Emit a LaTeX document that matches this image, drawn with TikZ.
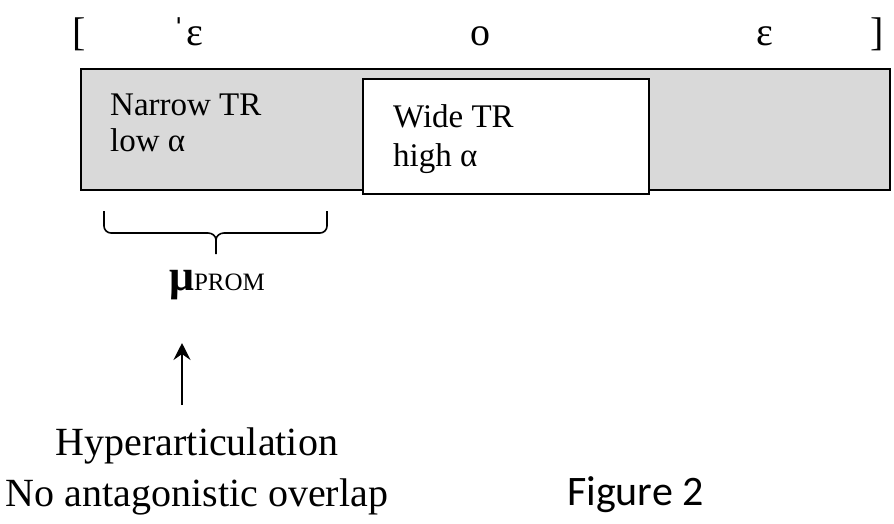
\documentclass[tikz,border=0pt]{standalone}
\usepackage{fontspec}
\setmainfont{Liberation Serif}
\newfontfamily\figfont{Carlito}
\usetikzlibrary{arrows.meta}
\tikzset{
  lbl/.style={anchor=base west, inner sep=0pt, font=\fontsize{33}{33}\selectfont},
  ipa/.style={anchor=base, inner sep=0pt, font=\fontsize{40}{40}\selectfont},
  bot/.style={anchor=base, inner sep=0pt, font=\fontsize{40}{40}\selectfont},
  graybox/.style={draw=black, fill=gray!30!white!100, line width=2pt},
  whitebox/.style={draw=black, fill=white, line width=2.4pt},
  bracepath/.style={line width=1.6pt, line join=round},
  uparrow/.style={line width=2.6pt, -{Stealth[length=17pt,width=17pt,inset=6pt]}}
}
\definecolor{boxgray}{HTML}{D9D9D9}
\begin{document}
\begin{tikzpicture}[x=1pt,y=-1pt]
\useasboundingbox (0,0) rectangle (894,523);
% top row
\node[ipa] (lb) at (79,45) {[};
\node[ipa] (e1) at (188,45) {ˈɛ};
\node[ipa] (o) at (480,45) {o};
\node[ipa] (e2) at (765,45) {ɛ};
\node[ipa] (rb) at (877,45) {]};
% boxes
\node[graybox, fill=boxgray, minimum width=809pt, minimum height=121pt, anchor=north west, inner sep=0pt] (gray) at (80,68) {};
\node[whitebox, minimum width=286pt, minimum height=115pt, anchor=north west, inner sep=0pt] (white) at (362,78) {};
\node[lbl] (n1) at (110,115) {Narrow TR};
\node[lbl] (n2) at (110,151) {low α};
\node[lbl] (w1) at (393,127) {Wide TR};
\node[lbl] (w2) at (393,166) {high α};
% brace
\coordinate (bl) at (104,211);
\coordinate (br) at (327,211);
\coordinate (bt) at (216,254);
\draw[bracepath] (bl) -- (104,226) to[out=-90,in=180] (111,233) -- (208,233) to[out=0,in=90] (216,240) -- (bt);
\draw[bracepath] (216,240) to[out=90,in=180] (224,233) -- (320,233) to[out=0,in=-90] (327,226) -- (br);
\node[anchor=base, inner sep=0pt] (mu) at (217,290) {\fontsize{44}{44}\selectfont\textbf{μ}\fontsize{25}{25}\selectfont PROM};
% arrow
\coordinate (as) at (182,405);
\coordinate (ae) at (182,343);
\draw[uparrow] (as) -- (ae);
% bottom texts
\node[bot] (h1) at (197,455) {Hyperarticulation};
\node[bot] (h2) at (197,506) {No antagonistic overlap};
\node[anchor=base west, inner sep=0pt, font=\figfont\fontsize{42}{42}\selectfont] (fig) at (567,505) {Figure 2};
\end{tikzpicture}
\end{document}
